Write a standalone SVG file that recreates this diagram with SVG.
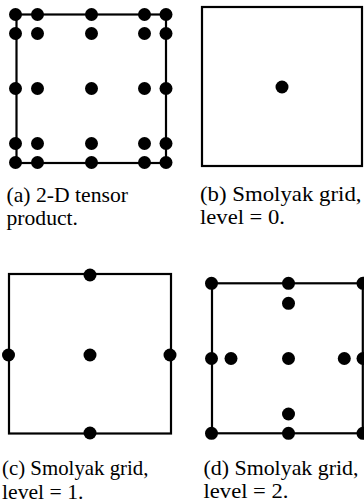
<svg xmlns="http://www.w3.org/2000/svg" width="364" height="502" viewBox="0 0 364 502">
<style>
.box{fill:none;stroke:#000;stroke-width:2.2}
.dot{fill:#000}
.cap{font-family:"Liberation Serif","Times New Roman",serif;font-size:22px;fill:#000}
</style>
<rect width="364" height="502" fill="#fff"/>
<g id="panel-a">
<rect class="box" x="16.5" y="14.5" width="149.5" height="148.5"/>
<g class="dot">
<circle cx="15.5" cy="14.5" r="6.5"/><circle cx="37.5" cy="14.5" r="6.5"/><circle cx="91.5" cy="14.5" r="6.5"/><circle cx="144.5" cy="14.5" r="6.5"/><circle cx="166" cy="14.5" r="6.5"/>
<circle cx="15.5" cy="33.5" r="6.5"/><circle cx="37.5" cy="33.5" r="6.5"/><circle cx="91.5" cy="33.5" r="6.5"/><circle cx="144.5" cy="33.5" r="6.5"/><circle cx="166" cy="33.5" r="6.5"/>
<circle cx="15.5" cy="88.5" r="6.5"/><circle cx="37.5" cy="88.5" r="6.5"/><circle cx="91.5" cy="88.5" r="6.5"/><circle cx="144.5" cy="88.5" r="6.5"/><circle cx="166" cy="88.5" r="6.5"/>
<circle cx="15.5" cy="143.5" r="6.5"/><circle cx="37.5" cy="143.5" r="6.5"/><circle cx="91.5" cy="143.5" r="6.5"/><circle cx="144.5" cy="143.5" r="6.5"/><circle cx="166" cy="143.5" r="6.5"/>
<circle cx="15.5" cy="162.5" r="6.5"/><circle cx="37.5" cy="162.5" r="6.5"/><circle cx="91.5" cy="162.5" r="6.5"/><circle cx="144.5" cy="162.5" r="6.5"/><circle cx="166" cy="162.5" r="6.5"/>
</g>
<text class="cap" x="6.5" y="202" textLength="121.5" lengthAdjust="spacingAndGlyphs">(a) 2-D tensor</text>
<text class="cap" x="6.5" y="225" textLength="71.5" lengthAdjust="spacingAndGlyphs">product.</text>
</g>
<g id="panel-b">
<rect class="box" x="202" y="7" width="160" height="159"/>
<circle class="dot" cx="282" cy="87" r="6.5"/>
<text class="cap" x="200" y="201" textLength="161.5" lengthAdjust="spacingAndGlyphs">(b) Smolyak grid,</text>
<text class="cap" x="200" y="224" textLength="85" lengthAdjust="spacingAndGlyphs">level = 0.</text>
</g>
<g id="panel-c">
<rect class="box" x="9" y="274" width="162" height="159.5"/>
<g class="dot">
<circle cx="90" cy="275" r="6.5"/>
<circle cx="8.5" cy="355" r="6.5"/><circle cx="90" cy="355" r="6.5"/><circle cx="170" cy="355" r="6.5"/>
<circle cx="90" cy="433" r="6.5"/>
</g>
<text class="cap" x="2" y="475" textLength="146.5" lengthAdjust="spacingAndGlyphs">(c) Smolyak grid,</text>
<text class="cap" x="2" y="498.5" textLength="81.5" lengthAdjust="spacingAndGlyphs">level = 1.</text>
</g>
<g id="panel-d">
<rect class="box" x="212" y="283.3" width="150.8" height="150"/>
<g class="dot">
<circle cx="211.5" cy="283.3" r="6.5"/><circle cx="288.5" cy="283.3" r="6.5"/><circle cx="363" cy="283.3" r="6.5"/>
<circle cx="288.5" cy="303.3" r="6.5"/>
<circle cx="211.5" cy="358.5" r="6.5"/><circle cx="231" cy="358.5" r="6.5"/><circle cx="288.5" cy="358.5" r="6.5"/><circle cx="344.3" cy="358.5" r="6.5"/><circle cx="363" cy="358.5" r="6.5"/>
<circle cx="288.5" cy="414" r="6.5"/>
<circle cx="211.5" cy="433.3" r="6.5"/><circle cx="288.5" cy="433.3" r="6.5"/><circle cx="363" cy="433.3" r="6.5"/>
</g>
<text class="cap" x="203.5" y="474.5" textLength="155" lengthAdjust="spacingAndGlyphs">(d) Smolyak grid,</text>
<text class="cap" x="203.5" y="498" textLength="85" lengthAdjust="spacingAndGlyphs">level = 2.</text>
</g>
<g id="connectors"/>
</svg>
